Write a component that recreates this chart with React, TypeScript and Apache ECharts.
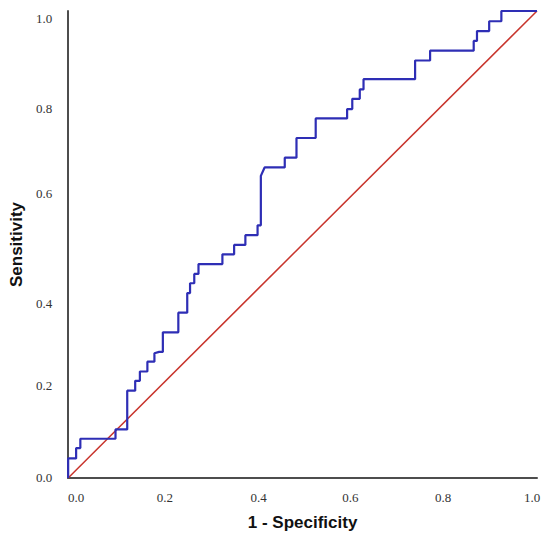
import React, { useEffect, useRef } from 'react';
import * as echarts from 'echarts';

// ROC curve vertices: [1 - Specificity, Sensitivity]
const rocPoints: [number, number][] = [
  [0, 0], [0, 0.042], [0.017, 0.042], [0.017, 0.064], [0.026, 0.064], [0.026, 0.084],
  [0.101, 0.084], [0.101, 0.104], [0.126, 0.104], [0.126, 0.187], [0.143, 0.187], [0.143, 0.208],
  [0.153, 0.208], [0.153, 0.228], [0.169, 0.228], [0.169, 0.249], [0.184, 0.249], [0.184, 0.267],
  [0.194, 0.27], [0.202, 0.27], [0.202, 0.312], [0.235, 0.312], [0.235, 0.354], [0.254, 0.354],
  [0.254, 0.396], [0.26, 0.396], [0.26, 0.417], [0.269, 0.417], [0.269, 0.437], [0.278, 0.437],
  [0.278, 0.458], [0.329, 0.458], [0.329, 0.479], [0.354, 0.479], [0.354, 0.499], [0.378, 0.499],
  [0.378, 0.52], [0.404, 0.52], [0.404, 0.541], [0.411, 0.541], [0.411, 0.647], [0.419, 0.665],
  [0.462, 0.665], [0.462, 0.686], [0.487, 0.686], [0.487, 0.728], [0.528, 0.728], [0.528, 0.77],
  [0.595, 0.77], [0.595, 0.79], [0.606, 0.79], [0.606, 0.812], [0.622, 0.812], [0.622, 0.832],
  [0.63, 0.832], [0.63, 0.854], [0.74, 0.854], [0.74, 0.894], [0.772, 0.894], [0.772, 0.915],
  [0.865, 0.915], [0.865, 0.936], [0.872, 0.936], [0.872, 0.957], [0.898, 0.957], [0.898, 0.978],
  [0.924, 0.978], [0.924, 1], [1, 1],
];

// Reference (chance) line
const chancePoints: [number, number][] = [[0, 0], [1, 1]];

const xTickLabels = ['0.0', '0.2', '0.4', '0.6', '0.8', '1.0'];
const yTickLabels = ['0.0', '0.2', '0.4', '0.6', '0.8', '1.0'];

// small label nudges (px) to mimic the reference placement
const xNudge = [8, 3, 3, 1, 0, -5];
const yNudge = [-1, 1, 12, -4, 4, 7];

export default function App() {
  const ref = useRef<HTMLDivElement>(null);
  useEffect(() => {
    if (!ref.current) return;
    const chart = echarts.init(ref.current, null, { renderer: 'svg' });
    const xRich: Record<string, any> = {};
    xNudge.forEach((d, i) => {
      xRich['x' + i] = {
        padding: d >= 0 ? [0, 0, 0, 2 * d] : [0, -2 * d, 0, 0],
        fontFamily: 'Liberation Serif', fontSize: 13, color: '#333',
      };
    });
    const yRich: Record<string, any> = {};
    yNudge.forEach((d, i) => {
      yRich['y' + i] = {
        padding: d >= 0 ? [2 * d, 0, 0, 0] : [0, 0, -2 * d, 0],
        fontFamily: 'Liberation Serif', fontSize: 13, color: '#333',
      };
    });
    const idx = (v: number) => Math.round(v * 5);
    chart.setOption({
      animation: false,
      backgroundColor: '#ffffff',
      grid: { left: 64.5, right: 13, top: 11, bottom: 64, containLabel: false },
      xAxis: {
        type: 'value', min: 0, max: 1, interval: 0.2,
        name: '1 - Specificity', nameLocation: 'middle', nameGap: 36,
        nameTextStyle: { fontFamily: 'Liberation Sans', fontWeight: 'bold', fontSize: 17, color: '#111' },
        axisLine: { show: true, lineStyle: { color: '#4d4d4d', width: 2 } },
        axisTick: { show: false },
        splitLine: { show: false },
        axisLabel: {
          margin: 13,
          formatter: (v: number) => `{x${idx(v)}|${xTickLabels[idx(v)]}}`,
          rich: xRich,
        },
      },
      yAxis: {
        type: 'value', min: 0, max: 1, interval: 0.2,
        name: 'Sensitivity', nameLocation: 'middle', nameGap: 38,
        nameTextStyle: { fontFamily: 'Liberation Sans', fontWeight: 'bold', fontSize: 17, color: '#111' },
        axisLine: { show: true, lineStyle: { color: '#4d4d4d', width: 2 } },
        axisTick: { show: false },
        splitLine: { show: false },
        axisLabel: {
          margin: 16,
          formatter: (v: number) => `{y${idx(v)}|${yTickLabels[idx(v)]}}`,
          rich: yRich,
        },
      },
      series: [
        {
          type: 'line', data: chancePoints, showSymbol: false, symbol: 'none',
          lineStyle: { color: '#c8342c', width: 1.5 }, z: 2,
        },
        {
          type: 'line', data: rocPoints, showSymbol: false, symbol: 'none',
          lineStyle: { color: '#2e2eb5', width: 2.2 }, z: 3,
        },
      ],
    });
    return () => chart.dispose();
  }, []);
  return (
    <div
      ref={ref}
      style={{ position: 'fixed', left: 0, top: 0, width: 550, height: 542, background: '#fff' }}
    />
  );
}
